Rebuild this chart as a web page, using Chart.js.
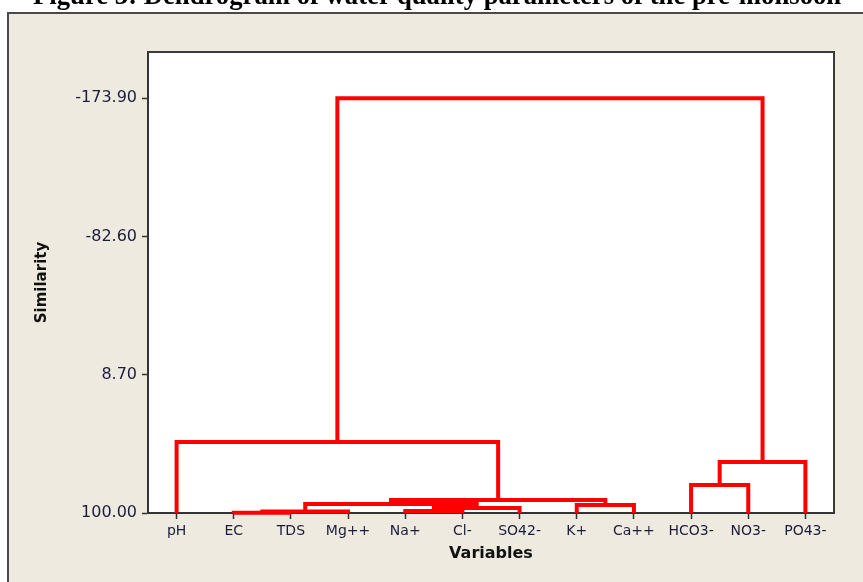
<!DOCTYPE html>
<html>
<head>
<meta charset="utf-8">
<script src="https://cdn.jsdelivr.net/npm/chart.js@4.4.0/dist/chart.umd.min.js"></script>
<style>
  html, body { margin: 0; padding: 0; background: #fff; overflow: hidden; }
  #wrap { position: relative; width: 863px; height: 582px; }
  #title { position: absolute; left: 33px; top: -18px; font: bold 26.7px/26.7px "Liberation Serif", serif; white-space: nowrap; color: #000; }
  canvas { position: absolute; left: 0; top: 0; }
</style>
</head>
<body>
<div id="wrap">
  <canvas id="dendro" width="863" height="582"></canvas>
  <div id="title">Figure 3: Dendrogram of water quality parameters of the pre-monsoon</div>
</div>
<script>
const variables = ["pH", "EC", "TDS", "Mg++", "Na+", "Cl-", "SO42-", "K+", "Ca++", "HCO3-", "NO3-", "PO43-"];
// each merge joins two nodes; ids 0-11 are variables, 12+ are earlier merges in order
const mergePairs = [[1, 2], [12, 3], [4, 5], [14, 6], [7, 8], [13, 15], [17, 16], [9, 10], [19, 11], [0, 18], [21, 20]];
const mergeSimilarity = [99.8, 99.0, 98.7, 96.7, 94.7, 94.1, 91.4, 81.5, 66.4, 53.2, -173.9];
const similarityTicks = [-173.9, -82.6, 8.7, 100];

const nodeX = variables.map((v, i) => i);
const nodeY = variables.map(() => 100);
const datasets = mergePairs.map(([a, b], k) => {
  const s = mergeSimilarity[k];
  nodeX.push((nodeX[a] + nodeX[b]) / 2);
  nodeY.push(s);
  return {
    data: [
      { x: nodeX[a], y: nodeY[a] },
      { x: nodeX[a], y: s },
      { x: nodeX[b], y: s },
      { x: nodeX[b], y: nodeY[b] }
    ],
    showLine: true,
    borderColor: "#ff0000",
    borderWidth: 4,
    pointRadius: 0,
    tension: 0,
    clip: 6
  };
});

const frame = {
  id: "frame",
  beforeDraw(chart) {
    const ctx = chart.ctx;
    const a = chart.chartArea;
    ctx.save();
    ctx.fillStyle = "#ffffff";
    ctx.fillRect(0, 0, chart.width, chart.height);
    ctx.fillStyle = "#eeeae0";
    ctx.fillRect(7, 12, chart.width, chart.height);
    ctx.strokeStyle = "#4a4a4a";
    ctx.lineWidth = 2;
    ctx.strokeRect(8, 13, chart.width + 10, chart.height + 10);
    ctx.fillStyle = "#ffffff";
    ctx.fillRect(a.left, a.top, a.right - a.left, a.bottom - a.top);
    ctx.restore();
  },
  afterDraw(chart) {
    const ctx = chart.ctx;
    const a = chart.chartArea;
    ctx.save();
    ctx.strokeStyle = "#3a3a3a";
    ctx.lineWidth = 2;
    ctx.beginPath();
    ctx.moveTo(a.left, a.top);
    ctx.lineTo(a.right, a.top);
    ctx.lineTo(a.right, a.bottom);
    ctx.stroke();
    ctx.restore();
  }
};

new Chart(document.getElementById("dendro"), {
  type: "scatter",
  data: { datasets },
  plugins: [frame],
  options: {
    responsive: false,
    devicePixelRatio: 1,
    animation: false,
    layout: { padding: { left: 0, top: 52, right: 29, bottom: 0 } },
    plugins: { legend: { display: false }, tooltip: { enabled: false } },
    scales: {
      x: {
        type: "linear",
        min: -0.5,
        max: 11.5,
        afterBuildTicks: (s) => { s.ticks = variables.map((v, i) => ({ value: i })); },
        afterFit: (s) => { s.height = 69; },
        ticks: {
          autoSkip: false,
          maxRotation: 0,
          padding: 4,
          color: "#1c1c3c",
          font: { family: "DejaVu Sans", size: 14 },
          callback: (v) => variables[v]
        },
        grid: { drawOnChartArea: false, tickLength: 6, color: "#333", tickWidth: 1.5 },
        border: { color: "#333", width: 2 },
        title: {
          display: true,
          text: "Variables",
          color: "#111",
          font: { family: "DejaVu Sans", size: 16, weight: "bold" },
          padding: { top: 0, bottom: 19 }
        }
      },
      y: {
        type: "linear",
        reverse: true,
        min: -204.4,
        max: 100,
        afterBuildTicks: (s) => { s.ticks = similarityTicks.map((v) => ({ value: v })); },
        afterFit: (s) => { s.width = 148; },
        ticks: {
          padding: 5,
          color: "#1c1c3c",
          font: { family: "DejaVu Sans", size: 16 },
          callback: (v) => v.toFixed(2)
        },
        grid: { drawOnChartArea: false, tickLength: 6, color: "#333", tickWidth: 1.5 },
        border: { color: "#333", width: 2 },
        title: {
          display: true,
          text: "Similarity",
          color: "#111",
          font: { family: "DejaVu Sans", size: 15, weight: "bold" },
          padding: { top: 33, bottom: 0 }
        }
      }
    }
  }
});
</script>
</body>
</html>
